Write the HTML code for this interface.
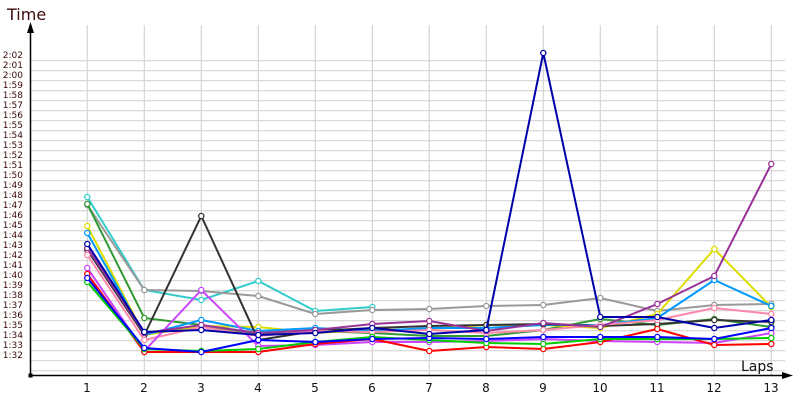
<!DOCTYPE html>
<html><head><meta charset="utf-8"><style>
body{margin:0;background:#fff}
svg{display:block;font-family:"DejaVu Sans","Liberation Sans",sans-serif}
.yl{font-size:9px;fill:#3a0a0a;text-anchor:end}
.xl{font-size:12px;fill:#111;text-anchor:middle}
</style></head><body>
<svg id="s" width="800" height="400" xmlns="http://www.w3.org/2000/svg">
<g id="grid" stroke="#d4d4d4" stroke-width="1.2"></g>
<text x="7" y="20" font-size="16" fill="#3a0a0a">Time</text>
<text x="741" y="371" font-size="14" fill="#111">Laps</text>
<g class="yl">
<text x="23" y="58">2:02</text><text x="23" y="68">2:01</text><text x="23" y="78">2:00</text><text x="23" y="88">1:59</text><text x="23" y="98">1:58</text><text x="23" y="108">1:57</text><text x="23" y="118">1:56</text><text x="23" y="128">1:55</text><text x="23" y="138">1:54</text><text x="23" y="148">1:53</text><text x="23" y="158">1:52</text><text x="23" y="168">1:51</text><text x="23" y="178">1:50</text><text x="23" y="188">1:49</text><text x="23" y="198">1:48</text><text x="23" y="208">1:47</text><text x="23" y="218">1:46</text><text x="23" y="228">1:45</text><text x="23" y="238">1:44</text><text x="23" y="248">1:43</text><text x="23" y="258">1:42</text><text x="23" y="268">1:41</text><text x="23" y="278">1:40</text><text x="23" y="288">1:39</text><text x="23" y="298">1:38</text><text x="23" y="308">1:37</text><text x="23" y="318">1:36</text><text x="23" y="328">1:35</text><text x="23" y="338">1:34</text><text x="23" y="348">1:33</text><text x="23" y="358">1:32</text>
</g>
<g class="xl">
<text x="87" y="392">1</text><text x="144" y="392">2</text><text x="201" y="392">3</text><text x="258" y="392">4</text><text x="315" y="392">5</text><text x="372" y="392">6</text><text x="429" y="392">7</text><text x="486" y="392">8</text><text x="543" y="392">9</text><text x="600" y="392">10</text><text x="657" y="392">11</text><text x="714" y="392">12</text><text x="771" y="392">13</text>
</g>
<line x1="30.5" y1="30" x2="30.5" y2="375.5" stroke="#000" stroke-width="1.5"/>
<polygon points="30.5,22 27,33 34,33" fill="#000"/>
<line x1="30" y1="375.5" x2="785" y2="375.5" stroke="#000" stroke-width="1.5"/>
<polygon points="793,375.5 782,372 782,379" fill="#000"/>
<rect x="28.5" y="373.5" width="4" height="4" fill="#000"/>
<g id="ser"></g>
</svg>
<script>
var g=document.getElementById('grid'),ns='http://www.w3.org/2000/svg';
function el(n,a,p){var e=document.createElementNS(ns,n);for(var k in a)e.setAttribute(k,a[k]);p.appendChild(e);return e;}
for(var y=60.7;y<372;y+=10)el('line',{x1:31,x2:785,y1:y,y2:y},g);
for(var i=0;i<13;i++){var x=87.3+57*i;el('line',{x1:x,x2:x,y1:25,y2:375},g);}
var S=[
['#33cccc',[197,290,300,281,311,307]],
['#999999',[205,290,291,296,314,310,309,306,305,298,311,305,304]],
['#339933',[204,318,325,335,331,333,336,336,330,319,325,319,327]],
['#dddd00',[226,335,326,327,333,330,329,325,325,328,314,249,307]],
['#0099ff',[233,335,320,331,328,331,328,328,325,325,318,280,306]],
['#333333',[250,335,216,340,331,328,326,325,324,326,324,320,322]],
['#ff88aa',[255,340,327,336,331,332,330,333,330,325,320,308,314]],
['#cc44ff',[268,351,290,346,345,342,342,341,339,341,342,343,333]],
['#993399',[248,333,325,333,330,324,321,331,323,327,304,276,164]],
['#ff0000',[274,352,352,352,344,339,351,347,349,342,329,345,344]],
['#00cc00',[282,349,351,349,342,337,340,343,344,339,339,339,338]],
['#0000ff',[278,348,352,340,342,339,338,339,337,337,337,339,328]],
['#0000aa',[244,332,330,335,333,328,334,330,53,317,317,328,320]]
];
var sg=document.getElementById('ser');
S.forEach(function(s){var pts=s[1].map(function(v,i){return (87.3+57*i)+','+v}).join(' ');
el('polyline',{points:pts,fill:'none',stroke:s[0],'stroke-width':2},sg);
s[1].forEach(function(v,i){el('circle',{cx:87.3+57*i,cy:v,r:2.6,fill:'#fff',stroke:s[0],'stroke-width':1.3},sg);});});
</script>
</body></html>
